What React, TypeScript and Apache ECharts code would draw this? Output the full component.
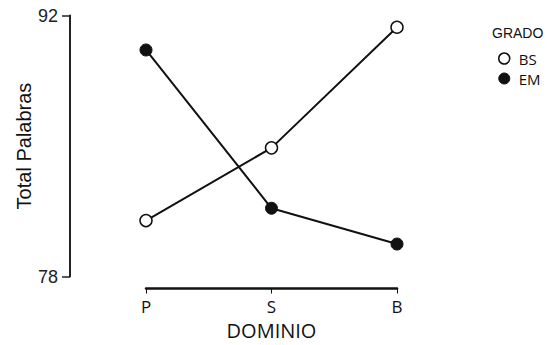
import React, { useEffect, useRef } from "react";
import * as echarts from "echarts";

const categories = ["P", "S", "B"];
const bsValues = [81.0, 84.9, 91.37];
const emValues = [90.15, 81.66, 79.74];
const yTicks = [78, 92];

export default function App() {
  const ref = useRef<HTMLDivElement>(null);
  useEffect(() => {
    if (!ref.current) return;
    const chart = echarts.init(ref.current, null, { renderer: "svg" });
    chart.setOption({
      animation: false,
      backgroundColor: "#ffffff",
      grid: {
        left: 146,
        right: 150,
        top: 15.5,
        bottom: 68.5,
        containLabel: false,
        outerBoundsMode: "none",
      },
      xAxis: {
        type: "category",
        data: categories,
        boundaryGap: false,
        offset: 12,
        name: "DOMINIO",
        nameLocation: "middle",
        nameGap: 32,
        nameTextStyle: { fontFamily: "Open Sans", fontSize: 20, fontWeight: 500, color: "#111" },
        axisLine: { lineStyle: { color: "#111", width: 2.5 } },
        axisTick: { length: 5, lineStyle: { color: "#111", width: 1 } },
        axisLabel: { fontFamily: "Open Sans", fontSize: 17, fontWeight: 500, color: "#111", margin: 9 },
        splitLine: { show: false },
      },
      yAxis: {
        type: "value",
        min: yTicks[0],
        max: yTicks[1],
        interval: yTicks[1] - yTicks[0],
        offset: 76,
        name: "Total Palabras",
        nameLocation: "middle",
        nameGap: 35,
        nameRotate: 90,
        nameTextStyle: { fontFamily: "Liberation Sans", fontSize: 20, color: "#111" },
        axisLine: { show: true, lineStyle: { color: "#222", width: 2 } },
        axisTick: { show: true, length: 8, lineStyle: { color: "#222", width: 1.5 } },
        axisLabel: { fontFamily: "Liberation Sans", fontSize: 18, color: "#222", margin: 12 },
        splitLine: { show: false },
      },
      legend: {
        orient: "vertical",
        left: 493,
        top: 46,
        itemWidth: 11,
        itemHeight: 11,
        itemGap: 5,
        textStyle: { fontFamily: "Open Sans", fontSize: 15, color: "#111", padding: [0, 0, 0, 4] },
        data: [
          { name: "BS", icon: "circle", itemStyle: { color: "#fff", borderColor: "#111", borderWidth: 1.5 } },
          { name: "EM", icon: "circle", itemStyle: { color: "#111", borderColor: "#111", borderWidth: 1 } },
        ],
      },
      graphic: [
        {
          type: "text",
          left: 492,
          top: 26,
          style: { text: "GRADO", fontFamily: "Liberation Sans", fontSize: 14, fill: "#111" },
        },
      ],
      series: [
        {
          name: "BS",
          type: "line",
          data: bsValues,
          symbol: "circle",
          symbolSize: 12,
          lineStyle: { color: "#111", width: 2 },
          itemStyle: { color: "#fff", borderColor: "#111", borderWidth: 1.5 },
        },
        {
          name: "EM",
          type: "line",
          data: emValues,
          symbol: "circle",
          symbolSize: 12,
          lineStyle: { color: "#111", width: 2 },
          itemStyle: { color: "#111", borderColor: "#111", borderWidth: 1 },
        },
      ],
    });
    return () => chart.dispose();
  }, []);
  return <div ref={ref} style={{ width: 547, height: 345, position: "absolute", left: 0, top: 0 }} />;
}
